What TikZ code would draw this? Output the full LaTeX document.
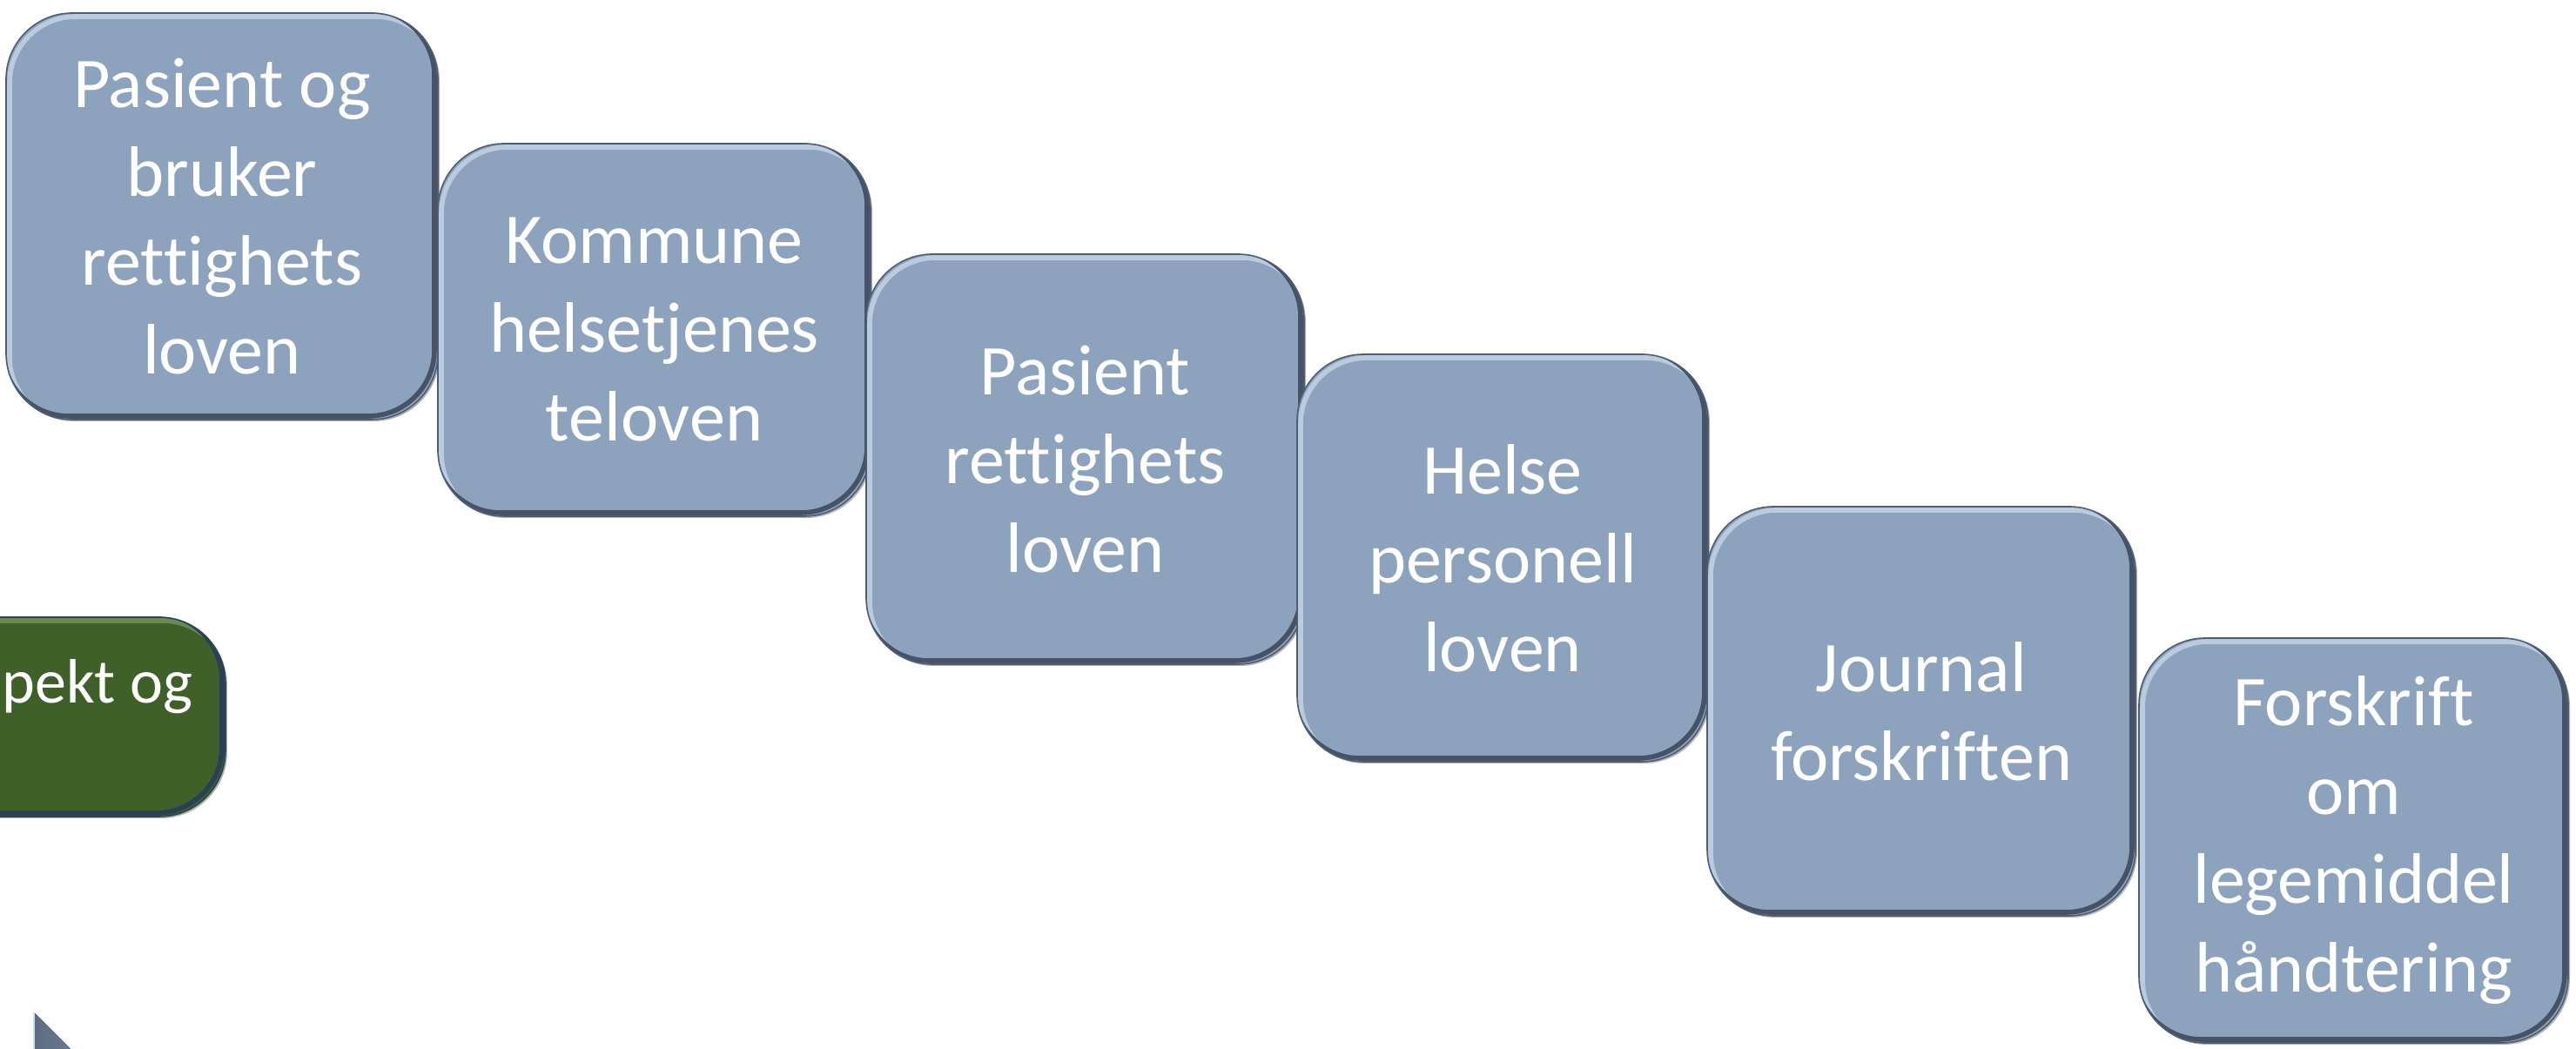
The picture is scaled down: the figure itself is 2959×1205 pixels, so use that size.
\documentclass[tikz,border=0pt]{standalone}
\usepackage{fontspec}
\setmainfont[Ligatures={NoCommon,NoContextual}]{Carlito}
\usetikzlibrary{shadows}
\definecolor{lawblue}{RGB}{141,162,188}
\definecolor{lawdark}{RGB}{52,63,82}
\definecolor{lawlight}{RGB}{205,220,240}
\definecolor{aspgreen}{RGB}{64,96,42}
\definecolor{aspedge}{RGB}{36,56,98}
\definecolor{asplight}{RGB}{125,155,105}

\begin{document}
\begin{tikzpicture}[x=0.25pt, y=-0.25pt,
  every node/.style={text=white, align=center, inner sep=0pt, font=\fontsize{20.5}{25.5}\selectfont},
  tile/.style n args={3}{rounded corners=19pt, fill=#1, draw=#2!70!#1, line width=0.4pt,
    drop shadow={shadow xshift=0.5pt, shadow yshift=-0.5pt, opacity=0.3, fill=black},
    path picture={
      \draw[#3!70!#1, line width=1.4pt, rounded corners=19pt] ([shift={(1pt,-1pt)}]path picture bounding box.south west) rectangle ([shift={(1pt,-1pt)}]path picture bounding box.north east);
      \draw[#2!80!#1, line width=1.4pt, rounded corners=19pt] ([shift={(-1pt,1pt)}]path picture bounding box.south west) rectangle ([shift={(-1pt,1pt)}]path picture bounding box.north east);
    }},
  law/.style={tile={lawblue}{lawdark}{lawlight}}]
\useasboundingbox (0,0) rectangle (2959,1205);
\clip (0,0) rectangle (2959,1205);

% green box cut at the left edge
\node[tile={aspgreen}{aspedge}{asplight}, minimum width=127.25pt, minimum height=57.25pt] (ag) at (4.5,823.5) {};
\node[anchor=base west, font=\fontsize{18}{22}\selectfont] (agt) at (2,808) {pekt og};

% arrow tip at the bottom
\fill[left color=lawdark!55!lawblue, right color=lawblue] (39,1163) -- (39,1320) -- (196,1320) -- cycle;
\draw[lawlight, line width=0.6pt] (39,1163) -- (39,1320);

% the laws, each one a step lower
\node[law, minimum width=124pt, minimum height=116.75pt] (pb) at (255,248.5) {Pasient og\\bruker\\rettighets\\loven};
\node[law, minimum width=124.25pt, minimum height=107pt] (kh) at (751.5,379) {Kommune\\helsetjenes\\teloven};
\node[law, minimum width=125.75pt, minimum height=117.75pt] (pr) at (1246.5,527.5) {Pasient\\rettighets\\loven};
\node[law, minimum width=118pt, minimum height=117pt] (hp) at (1726,641) {Helse\\personell\\loven};
\node[law, minimum width=123pt, minimum height=117.5pt] (jf) at (2207,817) {Journal\\forskriften};
\node[law, minimum width=123.25pt, minimum height=116.25pt] (fl) at (2703.5,965.5) {Forskrift\\om\\legemiddel\\håndtering};
\end{tikzpicture}
\end{document}
